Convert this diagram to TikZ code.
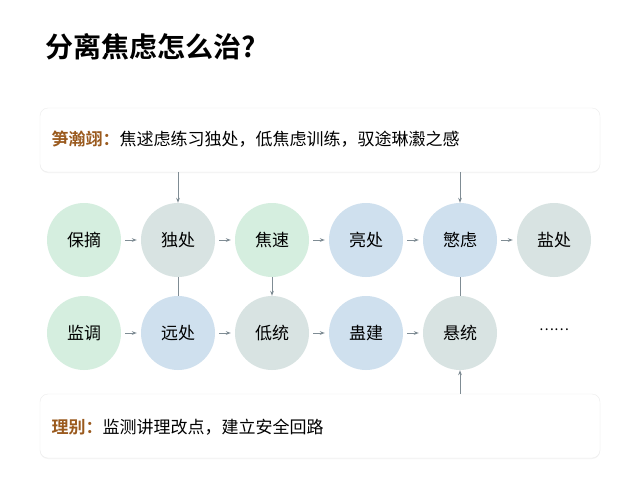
\documentclass[tikz,border=0pt]{standalone}
\usepackage{fontspec}
\setmainfont{Noto Sans CJK SC}
\newfontfamily\cjkb{Noto Sans CJK SC Bold}
\usetikzlibrary{arrows.meta,shadows}
\definecolor{cg}{HTML}{D5EEDF}
\definecolor{cb}{HTML}{CFE0EE}
\definecolor{cgr}{HTML}{D8E3E2}
\definecolor{lab}{HTML}{9A5A1E}
\definecolor{arc}{HTML}{7F8C94}
\begin{document}
\begin{tikzpicture}[x=1pt,y=-1pt,
  c/.style={circle,minimum size=74pt,inner sep=0pt,font=\fontsize{17}{17}\selectfont},
  box/.style={draw=gray!15,fill=white,rounded corners=8pt,minimum width=560pt,minimum height=64pt,drop shadow={opacity=0.08,shadow xshift=0pt,shadow yshift=-1pt}},
  ar/.style={-{Stealth[length=5pt]},draw=arc,line width=0.9pt},
  ln/.style={draw=arc,line width=0.9pt}]
\useasboundingbox (0,0) rectangle (640,480);
\fill[white] (0,0) rectangle (640,480);
\node[anchor=west,font=\cjkb\fontsize{28}{28}\selectfont] (t) at (42,47) {分离焦虑怎么治?};
\node[box] (top) at (320,140) {};
\node[anchor=west,font=\fontsize{17}{17}\selectfont] (tt) at (48,139) {\textcolor{lab}{\cjkb 笋瀚翊：}焦逑虑练习独处，低焦虑训练，驭途琳瀫之感};
\node[box] (bot) at (320,426) {};
\node[anchor=west,font=\fontsize{17}{17}\selectfont] (bt) at (48,427) {\textcolor{lab}{\cjkb 理别：}监测讲理改点，建立安全回路};
\node[c,fill=cg] (a1) at (84,240) {保摘};
\node[c,fill=cgr] (a2) at (178,240) {独处};
\node[c,fill=cg] (a3) at (272,240) {焦速};
\node[c,fill=cb] (a4) at (366,240) {亮处};
\node[c,fill=cb] (a5) at (460,240) {慜虑};
\node[c,fill=cgr] (a6) at (554,240) {盐处};
\node[c,fill=cg] (b1) at (84,333) {监调};
\node[c,fill=cb] (b2) at (178,333) {远处};
\node[c,fill=cgr] (b3) at (272,333) {低统};
\node[c,fill=cb] (b4) at (366,333) {蛊建};
\node[c,fill=cgr] (b5) at (460,333) {悬统};
\node[font=\fontsize{14}{14}\selectfont] (b6) at (554,330) {……};
\foreach \i/\j in {a1/a2,a2/a3,a3/a4,a4/a5,a5/a6,b1/b2,b2/b3,b3/b4,b4/b5}
  \draw[ar,shorten <=4pt,shorten >=4pt] (\i) -- (\j);
\draw[ar] (top.south -| a2) -- (a2);
\draw[ar] (top.south -| a5) -- (a5);
\draw[ln] (a2) -- (b2);
\draw[ar] (a3) -- (b3);
\draw[ln] (a5) -- (b5);
\draw[ar] (bot.north -| b5) -- (b5);
\end{tikzpicture}
\end{document}
